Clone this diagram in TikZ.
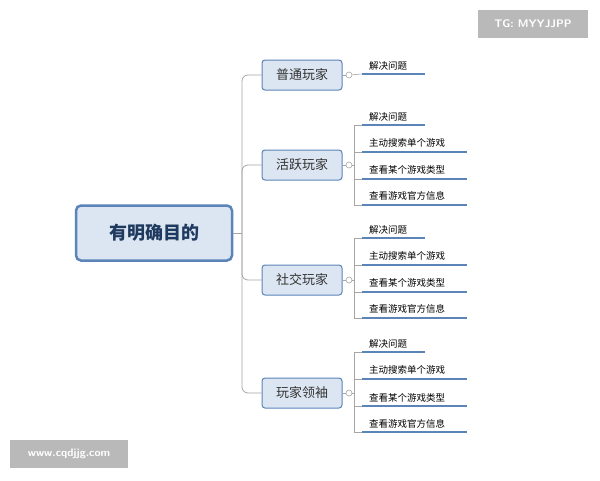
\documentclass[tikz,border=0pt]{standalone}
\usepackage{fontspec}
\newfontfamily\cjk{Noto Sans CJK SC}
\begin{document}
\begin{tikzpicture}[x=1pt,y=-1pt,font=\cjk,
 rootbox/.style={draw=bord,line width=2.5pt,fill=boxfill,rounded corners=5pt,minimum width=156pt,minimum height=55pt,font=\cjk\bfseries\fontsize{18}{20}\selectfont,text=titletext},
 kid/.style={draw=bord,line width=1pt,fill=boxfill,rounded corners=3pt,minimum width=80pt,minimum height=30pt,font=\cjk\fontsize{13}{15}\selectfont,text=black!80},
 leaf/.style={anchor=south west,inner sep=1pt,font=\cjk\fontsize{9.5}{11}\selectfont},
 uline/.style={draw=bord,line width=1.8pt},
 trunk/.style={draw=gray!70,line width=0.8pt,rounded corners=6pt},
 thin/.style={draw=gray!70,line width=0.6pt},
 knob/.style={circle,draw=gray!70,line width=0.6pt,inner sep=0pt,minimum size=6pt,fill=white},
 wm/.style={fill=gray!55,text=white,font=\fontsize{11}{13}\selectfont\sffamily\bfseries,inner sep=0pt}]
\definecolor{bord}{HTML}{5B84B8}
\definecolor{boxfill}{HTML}{DCE6F2}
\definecolor{titletext}{HTML}{1F3A5F}
\useasboundingbox (0,0) rectangle (600,480);
\fill[white] (0,0) rectangle (600,480);
\node[wm,minimum width=110pt,minimum height=28pt] (wm1) at (533,24) {TG: MYYJJPP};
\node[wm,minimum width=118pt,minimum height=28pt] (wm2) at (69,454) {www.cqdjjg.com};
\node[rootbox] (root) at (154,233) {有明确目的};
\coordinate (tr) at (242,233);
\draw[trunk] (root.east) -- (tr);
\node[kid] (k1) at (302,75) {普通玩家};
\node[kid] (k2) at (302,165) {活跃玩家};
\node[kid] (k3) at (302,280) {社交玩家};
\node[kid] (k4) at (302,393) {玩家领袖};
\foreach \k in {k1,k2,k3,k4}{\draw[trunk] (tr) |- (\k.west);}
% k1
\node[knob] (c1) at (349,75) {};
\draw[thin] (k1.east) -- (c1);
\coordinate (a1) at (362,74); \coordinate (b1) at (425,74);
\draw[thin] (c1) -- (a1);
\draw[uline] (a1) -- (b1);
\node[leaf] (t1) at (368,71) {解决问题};
\foreach \k/\ym/\ya/\yb/\ycc/\yd [count=\i] in {k2/165/125/152/179/205, k3/280/238/265/292/318, k4/393/352/379/406/432}{
 \draw[thin] (362,\ya) -| (354,\yd) -- (362,\yd);
 \draw[thin] (354,\yb) -- (362,\yb) (354,\ycc) -- (362,\ycc);
 \node[knob] (n\i) at (349,\ym) {};
 \draw[thin] (\k.east) -- (n\i.west);
 \draw[thin] (n\i.east) -- (354,\ym);
 \draw[uline] (362,\ya) -- (425,\ya);
 \draw[uline] (362,\yb) -- (467,\yb);
 \draw[uline] (362,\ycc) -- (467,\ycc);
 \draw[uline] (362,\yd) -- (467,\yd);
 \node[leaf] (p\i) at (368,\ya-3) {解决问题};
 \node[leaf] (q\i) at (368,\yb-3) {主动搜索单个游戏};
 \node[leaf] (r\i) at (368,\ycc-3) {查看某个游戏类型};
 \node[leaf] (s\i) at (368,\yd-3) {查看游戏官方信息};
}
\end{tikzpicture}
\end{document}
